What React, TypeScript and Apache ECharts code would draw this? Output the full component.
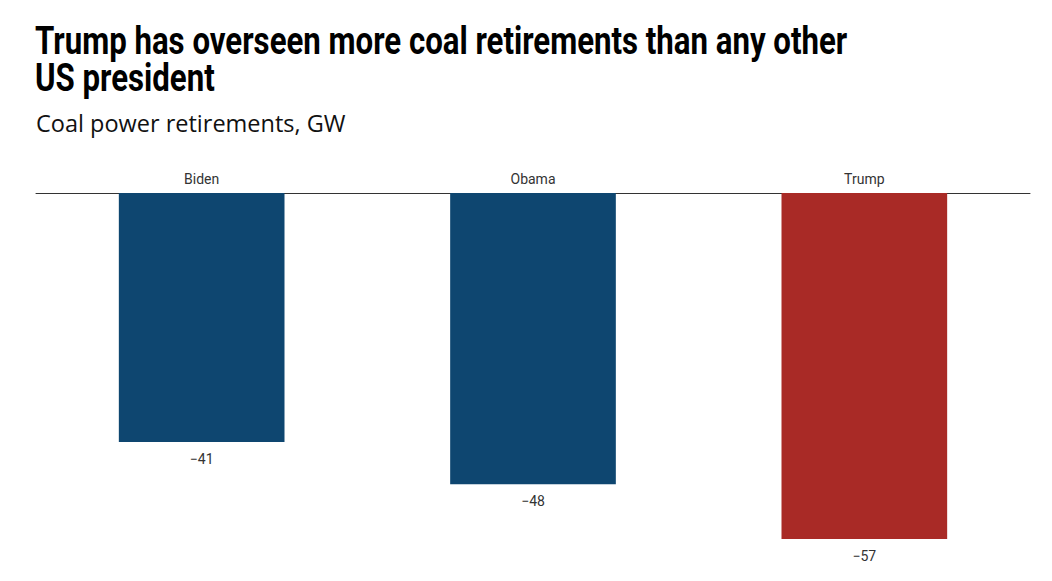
import React, { useEffect, useRef } from "react";
import * as echarts from "echarts";

const presidents = ["Biden", "Obama", "Trump"];
const retirementsGW = [-41, -48, -57];
const barColors = ["#0e4670", "#0e4670", "#a92a26"];

const titleLines = ["Trump has overseen more coal retirements than any other", "US president"];
const subtitleText = "Coal power retirements, GW";

const TITLE_FONT_FAMILY = "Roboto";
const TITLE_SIZE = 38;

function measure(text: string, font: string): number {
  const ctx = document.createElement("canvas").getContext("2d");
  if (!ctx) return text.length * 18;
  ctx.font = font;
  return ctx.measureText(text).width;
}

export default function App() {
  const ref = useRef<HTMLDivElement>(null);
  useEffect(() => {
    document.body.style.margin = "0";
    const chart = echarts.init(ref.current!, null, { renderer: "svg" });
    const titleFont = `bold ${TITLE_SIZE}px ${TITLE_FONT_FAMILY}`;
    const w1 = measure(titleLines[0], titleFont);
    const sx = 813 / w1;
    chart.setOption({
      animation: false,
      backgroundColor: "#ffffff",
      title: [
        {
          text: subtitleText,
          left: 31,
          top: 106,
          textStyle: {
            fontFamily: "'Open Sans', 'Noto Sans', sans-serif",
            fontWeight: "normal",
            fontSize: 23.5,
            color: "#111111",
          },
        },
      ],
      graphic: [
        {
          type: "text",
          x: 35,
          y: 22,
          scaleX: sx,
          style: {
            text: titleLines[0],
            fontFamily: TITLE_FONT_FAMILY,
            fontWeight: "bold",
            fontSize: TITLE_SIZE,
            fill: "#000000",
            verticalAlign: "top",
          },
        },
        {
          type: "text",
          x: 35,
          y: 59,
          scaleX: sx,
          style: {
            text: titleLines[1],
            fontFamily: TITLE_FONT_FAMILY,
            fontWeight: "bold",
            fontSize: TITLE_SIZE,
            fill: "#000000",
            verticalAlign: "top",
          },
        },
      ],
      grid: { left: 36, right: 22, top: 193, bottom: 42, containLabel: false },
      xAxis: {
        type: "category",
        position: "top",
        data: presidents,
        axisLine: { show: true, lineStyle: { color: "#333333", width: 1 } },
        axisTick: { show: false },
        axisLabel: {
          fontFamily: "Roboto, sans-serif",
          fontSize: 14,
          color: "#333333",
          margin: 7,
        },
      },
      yAxis: {
        type: "value",
        min: -57,
        max: 0,
        show: false,
        splitLine: { show: false },
      },
      series: [
        {
          type: "bar",
          barWidth: "50%",
          data: retirementsGW.map((v, i) => ({ value: v, itemStyle: { color: barColors[i] } })),
          label: {
            show: true,
            position: "bottom",
            distance: 10,
            fontFamily: "Roboto, sans-serif",
            fontSize: 14,
            color: "#333333",
            formatter: (p: any) => String(p.value).replace("-", "\u2212"),
          },
        },
      ],
    });
    return () => chart.dispose();
  }, []);
  return <div ref={ref} style={{ width: 1052, height: 581 }} />;
}
